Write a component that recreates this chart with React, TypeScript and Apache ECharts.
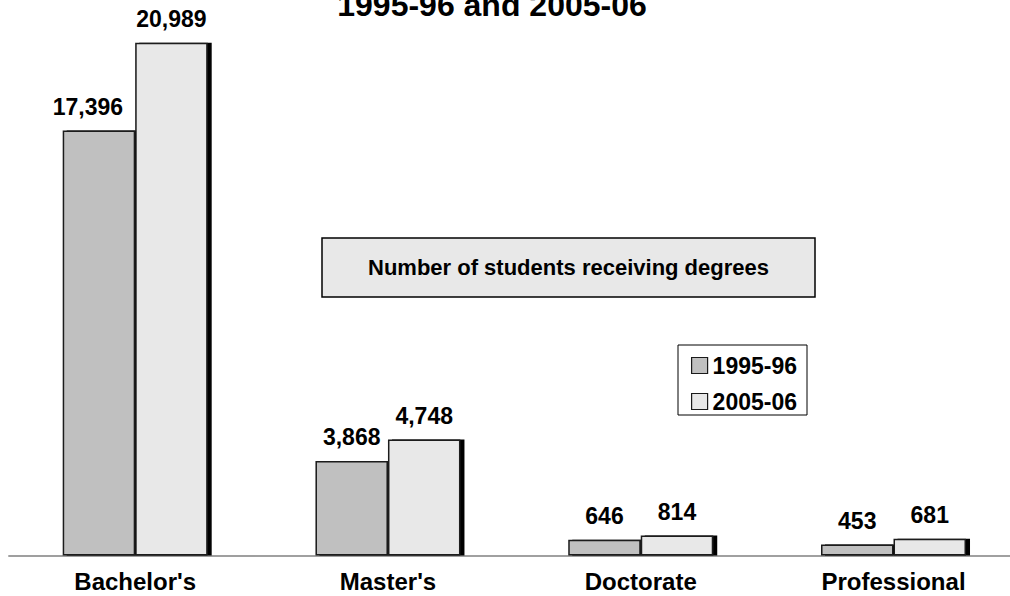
import React, { useEffect, useRef } from "react";
import * as echarts from "echarts";

const categories = ["Bachelor's", "Master's", "Doctorate", "Professional"];
const values1995 = [17396, 3868, 646, 453];
const values2005 = [20989, 4748, 814, 681];
const seriesNames = ["1995-96", "2005-06"];
const titleText = "1995-96 and 2005-06";
const boxText = "Number of students receiving degrees";

const FONT = "'Liberation Sans', Arial, Helvetica, sans-serif";

export default function App() {
  const ref = useRef<HTMLDivElement>(null);
  useEffect(() => {
    if (!ref.current) return;
    const chart = echarts.init(ref.current, null, { renderer: "svg" });
    const fmt = (p: any) => Number(p.value).toLocaleString("en-US");
    const labelBase = {
      show: true,
      position: "top",
      distance: 12,
      formatter: fmt,
      fontFamily: FONT,
      fontWeight: "bold",
      fontSize: 23,
      color: "#000",
    };
    const barStyle = (color: string) => ({
      color,
      borderColor: "#1a1a1a",
      borderWidth: 1.5,
      shadowColor: "#000",
      shadowBlur: 0,
      shadowOffsetX: 4,
      shadowOffsetY: 0,
    });
    chart.setOption({
      animation: false,
      backgroundColor: "#fff",
      textStyle: { fontFamily: FONT },
      grid: {
        left: 8.8,
        width: 1011.1,
        top: 18,
        bottom: 40.5,
        containLabel: false,
        outerBoundsMode: "none",
      },
      xAxis: {
        type: "category",
        data: categories,
        axisLine: { show: true, lineStyle: { color: "#808080", width: 1.5 } },
        axisTick: { show: false },
        axisLabel: {
          margin: 14,
          fontFamily: FONT,
          fontWeight: "bold",
          fontSize: 24,
          color: "#000",
        },
      },
      yAxis: { type: "value", min: 0, max: 22000, show: false, splitLine: { show: false } },
      legend: {
        orient: "vertical",
        left: 678,
        top: 345,
        padding: [9, 10, 2, 13],
        itemGap: 13,
        itemWidth: 16,
        itemHeight: 16,
        borderColor: "#000",
        borderWidth: 1,
        backgroundColor: "#fff",
        icon: "rect",
        itemStyle: {
          borderColor: "#1a1a1a",
          borderWidth: 1.2,
          shadowColor: "transparent",
          shadowBlur: 0,
          shadowOffsetX: 0,
          shadowOffsetY: 0,
        },
        textStyle: { fontFamily: FONT, fontWeight: "bold", fontSize: 23, color: "#000", lineHeight: 22 },
        data: seriesNames,
      },
      series: [
        {
          name: seriesNames[0],
          type: "bar",
          barWidth: 72.5,
          barGap: "0%",
          itemStyle: barStyle("#c0c0c0"),
          label: labelBase,
          data: values1995.map((v, i) =>
            i === 0 ? { value: v, label: { offset: [-11, 0] } } : v
          ),
        },
        {
          name: seriesNames[1],
          type: "bar",
          barWidth: 72.5,
          barGap: "0%",
          itemStyle: barStyle("#e8e8e8"),
          label: labelBase,
          data: values2005,
        },
      ],
      graphic: [
        {
          type: "text",
          x: 492,
          y: 4.5,
          style: {
            text: titleText,
            fontFamily: FONT,
            fontWeight: "bold",
            fontSize: 32,
            fill: "#000",
            textAlign: "center",
            textVerticalAlign: "middle",
          },
        },
        {
          type: "rect",
          shape: { x: 322, y: 238, width: 493, height: 59 },
          style: { fill: "#e8e8e8", stroke: "#000", lineWidth: 1.5 },
          z: 10,
        },
        {
          type: "text",
          x: 568.5,
          y: 267.5,
          z: 11,
          style: {
            text: boxText,
            fontFamily: FONT,
            fontWeight: "bold",
            fontSize: 22,
            fill: "#000",
            textAlign: "center",
            textVerticalAlign: "middle",
          },
        },
      ],
    });
    return () => chart.dispose();
  }, []);
  return (
    <div
      ref={ref}
      style={{ position: "fixed", left: 0, top: 0, width: 1010, height: 596, background: "#fff" }}
    />
  );
}
